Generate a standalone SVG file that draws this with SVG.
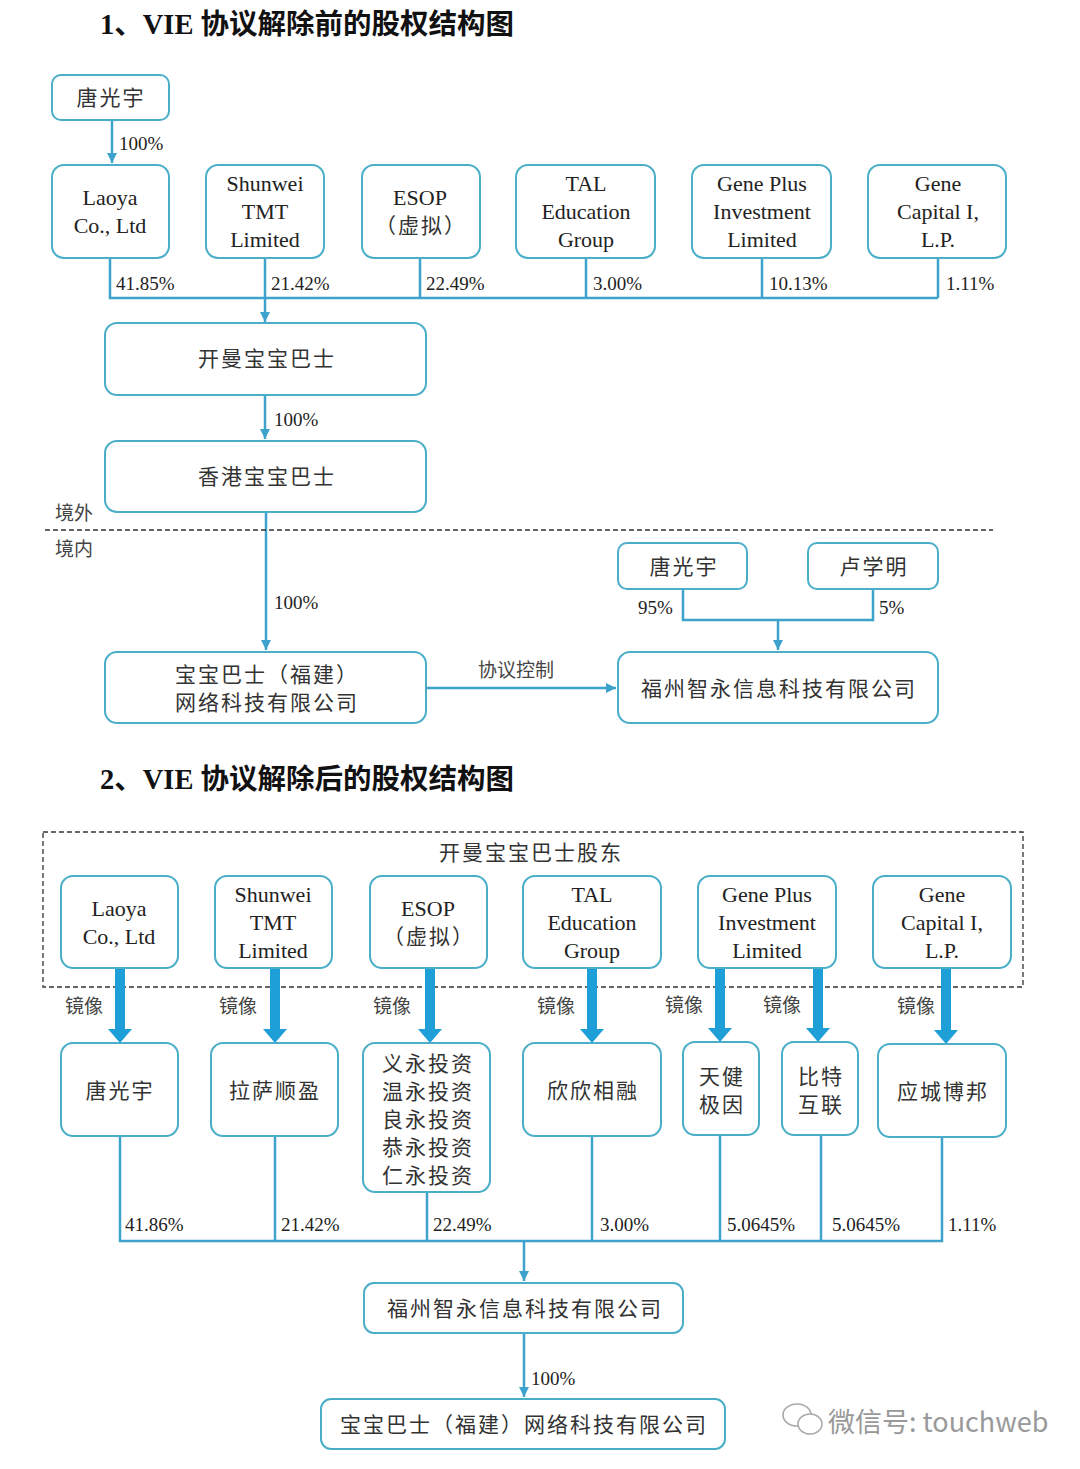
<svg xmlns="http://www.w3.org/2000/svg" width="1080" height="1469" viewBox="0 0 1080 1469">
<defs>
<style>
.bx{fill:#fff;stroke:#4aaec8;stroke-width:2}
.ln{fill:none;stroke:#3ea3cc;stroke-width:2.5}
.ar{fill:none;stroke:#3ea3cc;stroke-width:2.5;marker-end:url(#ah)}
.dash{fill:none;stroke:#333;stroke-width:1.3;stroke-dasharray:5 3}
.th{fill:#1e9fd8}
.t{font-family:"Liberation Serif","Noto Sans CJK SC",serif;font-size:22px;fill:#222;text-anchor:middle}
.c{font-family:"Liberation Serif","Noto Sans CJK SC",serif;font-size:21px;fill:#333;text-anchor:middle;letter-spacing:2px}
.p{font-family:"Liberation Serif","Noto Sans CJK SC",serif;font-size:19px;fill:#222}
.s{font-family:"Noto Sans CJK SC",sans-serif;font-size:19px;fill:#444}
.h{font-family:"Liberation Serif","Noto Sans CJK SC",serif;font-size:28.5px;font-weight:bold;fill:#111}
</style>
<marker id="ah" viewBox="0 0 10 10" refX="10" refY="5" markerWidth="4" markerHeight="4" orient="auto" markerUnits="strokeWidth">
<path d="M0,0 L10,5 L0,10 z" fill="#3ea3cc"/>
</marker>
</defs>

<text class="h" x="100" y="34">1、VIE 协议解除前的股权结构图</text>
<text class="h" x="100" y="789">2、VIE 协议解除后的股权结构图</text>

<!-- connectors -->
<g id="connectors">
<path class="ar" d="M112,120 V163"/>
<path class="ln" d="M110,258 V298 H938 M265,258 V298 M420,258 V298 M586,258 V298 M762,258 V298 M938,258 V298"/>
<path class="ar" d="M265,298 V322"/>
<path class="ar" d="M265,395 V439"/>
<path class="ar" d="M266,512 V650"/>
<path class="ar" d="M426,688 H616"/>
<path class="ln" d="M683,589 V620 H873 V589"/>
<path class="ar" d="M778,620 V650"/>
<path class="dash" d="M45,530 H993"/>

<path class="dash" d="M43,832 H1023 V987 H43 Z"/>
<path class="th" d="M115,968 H125 V1029 H132 L120,1043 L108,1029 H115 Z"/>
<path class="th" d="M270,968 H280 V1029 H287 L275,1043 L263,1029 H270 Z"/>
<path class="th" d="M425,968 H435 V1029 H442 L430,1043 L418,1029 H425 Z"/>
<path class="th" d="M587,968 H597 V1029 H604 L592,1043 L580,1029 H587 Z"/>
<path class="th" d="M715,968 H725 V1028 H732 L720,1042 L708,1028 H715 Z"/>
<path class="th" d="M813,968 H823 V1028 H830 L818,1042 L806,1028 H813 Z"/>
<path class="th" d="M941,968 H951 V1030 H958 L946,1044 L934,1030 H941 Z"/>

<path class="ln" d="M120,1136 V1241 H942 V1137 M275,1136 V1241 M427,1192 V1241 M592,1136 V1241 M720,1135 V1241 M821,1135 V1241"/>
<path class="ar" d="M524,1241 V1281"/>
<path class="ar" d="M524,1333 V1397"/>
</g>

<!-- labels -->
<g id="labels">
<text class="p" x="119" y="150">100%</text>
<text class="p" x="116" y="290">41.85%</text>
<text class="p" x="271" y="290">21.42%</text>
<text class="p" x="426" y="290">22.49%</text>
<text class="p" x="593" y="290">3.00%</text>
<text class="p" x="769" y="290">10.13%</text>
<text class="p" x="946" y="290">1.11%</text>
<text class="p" x="274" y="426">100%</text>
<text class="s" x="55" y="520">境外</text>
<text class="s" x="55" y="556">境内</text>
<text class="p" x="274" y="609">100%</text>
<text class="s" x="478" y="677">协议控制</text>
<text class="p" x="638" y="614">95%</text>
<text class="p" x="879" y="614">5%</text>

<text class="s" x="65" y="1013">镜像</text>
<text class="s" x="219" y="1013">镜像</text>
<text class="s" x="373" y="1013">镜像</text>
<text class="s" x="537" y="1013">镜像</text>
<text class="s" x="665" y="1012">镜像</text>
<text class="s" x="763" y="1012">镜像</text>
<text class="s" x="897" y="1013">镜像</text>

<text class="p" x="125" y="1231">41.86%</text>
<text class="p" x="281" y="1231">21.42%</text>
<text class="p" x="433" y="1231">22.49%</text>
<text class="p" x="600" y="1231">3.00%</text>
<text class="p" x="727" y="1231">5.0645%</text>
<text class="p" x="832" y="1231">5.0645%</text>
<text class="p" x="948" y="1231">1.11%</text>
<text class="p" x="531" y="1385">100%</text>
<text class="c" x="531" y="860">开曼宝宝巴士股东</text>
</g>

<!-- section 1 nodes -->
<g id="n-tgy1"><rect class="bx" x="52" y="75" width="117" height="45" rx="9"/><text class="c" x="111" y="105">唐光宇</text></g>
<g id="n-laoya1"><rect class="bx" x="52" y="165" width="117" height="93" rx="12"/><text class="t" x="110" y="205">Laoya</text><text class="t" x="110" y="233">Co., Ltd</text></g>
<g id="n-shunwei1"><rect class="bx" x="206" y="165" width="118" height="93" rx="12"/><text class="t" x="265" y="191">Shunwei</text><text class="t" x="265" y="219">TMT</text><text class="t" x="265" y="247">Limited</text></g>
<g id="n-esop1"><rect class="bx" x="362" y="165" width="118" height="93" rx="12"/><text class="t" x="420" y="205">ESOP</text><text class="c" x="421" y="233">（虚拟）</text></g>
<g id="n-tal1"><rect class="bx" x="516" y="165" width="139" height="93" rx="12"/><text class="t" x="586" y="191">TAL</text><text class="t" x="586" y="219">Education</text><text class="t" x="586" y="247">Group</text></g>
<g id="n-geneplus1"><rect class="bx" x="692" y="165" width="139" height="93" rx="12"/><text class="t" x="762" y="191">Gene Plus</text><text class="t" x="762" y="219">Investment</text><text class="t" x="762" y="247">Limited</text></g>
<g id="n-genecap1"><rect class="bx" x="868" y="165" width="138" height="93" rx="12"/><text class="t" x="938" y="191">Gene</text><text class="t" x="938" y="219">Capital I,</text><text class="t" x="938" y="247">L.P.</text></g>
<g id="n-cayman"><rect class="bx" x="105" y="323" width="321" height="72" rx="12"/><text class="c" x="267" y="366">开曼宝宝巴士</text></g>
<g id="n-hk"><rect class="bx" x="105" y="441" width="321" height="71" rx="12"/><text class="c" x="267" y="484">香港宝宝巴士</text></g>
<g id="n-fujian1"><rect class="bx" x="105" y="652" width="321" height="71" rx="12"/><text class="c" x="267" y="682">宝宝巴士（福建）</text><text class="c" x="267" y="710">网络科技有限公司</text></g>
<g id="n-tgy2"><rect class="bx" x="618" y="543" width="129" height="46" rx="9"/><text class="c" x="684" y="574">唐光宇</text></g>
<g id="n-lxm"><rect class="bx" x="808" y="543" width="130" height="46" rx="9"/><text class="c" x="874" y="574">卢学明</text></g>
<g id="n-fuzhou1"><rect class="bx" x="618" y="652" width="320" height="71" rx="12"/><text class="c" x="779" y="696">福州智永信息科技有限公司</text></g>

<!-- section 2 nodes -->
<g id="n-laoya2"><rect class="bx" x="61" y="876" width="117" height="92" rx="12"/><text class="t" x="119" y="916">Laoya</text><text class="t" x="119" y="944">Co., Ltd</text></g>
<g id="n-shunwei2"><rect class="bx" x="215" y="876" width="117" height="92" rx="12"/><text class="t" x="273" y="902">Shunwei</text><text class="t" x="273" y="930">TMT</text><text class="t" x="273" y="958">Limited</text></g>
<g id="n-esop2"><rect class="bx" x="370" y="876" width="117" height="92" rx="12"/><text class="t" x="428" y="916">ESOP</text><text class="c" x="429" y="944">（虚拟）</text></g>
<g id="n-tal2"><rect class="bx" x="523" y="876" width="138" height="92" rx="12"/><text class="t" x="592" y="902">TAL</text><text class="t" x="592" y="930">Education</text><text class="t" x="592" y="958">Group</text></g>
<g id="n-geneplus2"><rect class="bx" x="698" y="876" width="138" height="92" rx="12"/><text class="t" x="767" y="902">Gene Plus</text><text class="t" x="767" y="930">Investment</text><text class="t" x="767" y="958">Limited</text></g>
<g id="n-genecap2"><rect class="bx" x="873" y="876" width="138" height="92" rx="12"/><text class="t" x="942" y="902">Gene</text><text class="t" x="942" y="930">Capital I,</text><text class="t" x="942" y="958">L.P.</text></g>

<g id="n-tgy3"><rect class="bx" x="61" y="1043" width="117" height="93" rx="12"/><text class="c" x="120" y="1098">唐光宇</text></g>
<g id="n-lasa"><rect class="bx" x="211" y="1043" width="127" height="93" rx="12"/><text class="c" x="275" y="1098">拉萨顺盈</text></g>
<g id="n-invest"><rect class="bx" x="363" y="1043" width="127" height="149" rx="12"/><text class="c" x="428" y="1071">义永投资</text><text class="c" x="428" y="1099">温永投资</text><text class="c" x="428" y="1127">良永投资</text><text class="c" x="428" y="1155">恭永投资</text><text class="c" x="428" y="1183">仁永投资</text></g>
<g id="n-xinxin"><rect class="bx" x="523" y="1043" width="138" height="93" rx="12"/><text class="c" x="593" y="1098">欣欣相融</text></g>
<g id="n-tianjian"><rect class="bx" x="683" y="1042" width="76" height="93" rx="12"/><text class="c" x="722" y="1084">天健</text><text class="c" x="722" y="1112">极因</text></g>
<g id="n-bite"><rect class="bx" x="782" y="1042" width="76" height="93" rx="12"/><text class="c" x="821" y="1084">比特</text><text class="c" x="821" y="1112">互联</text></g>
<g id="n-yingcheng"><rect class="bx" x="878" y="1044" width="128" height="93" rx="12"/><text class="c" x="943" y="1099">应城博邦</text></g>
<g id="n-fuzhou2"><rect class="bx" x="364" y="1283" width="319" height="50" rx="10"/><text class="c" x="525" y="1316">福州智永信息科技有限公司</text></g>
<g id="n-fujian2"><rect class="bx" x="321" y="1399" width="404" height="50" rx="10"/><text class="c" x="524" y="1432">宝宝巴士（福建）网络科技有限公司</text></g>

<!-- watermark -->
<g id="watermark" fill="none" stroke="#aaa" stroke-width="1.6">
<ellipse cx="797" cy="1415" rx="14" ry="11"/>
<ellipse cx="810" cy="1424" rx="12" ry="10" fill="#fff"/>
<text x="828" y="1432" font-family="Noto Sans CJK SC, sans-serif" font-size="27" fill="#999" stroke="none">微信号: touchweb</text>
</g>
</svg>
